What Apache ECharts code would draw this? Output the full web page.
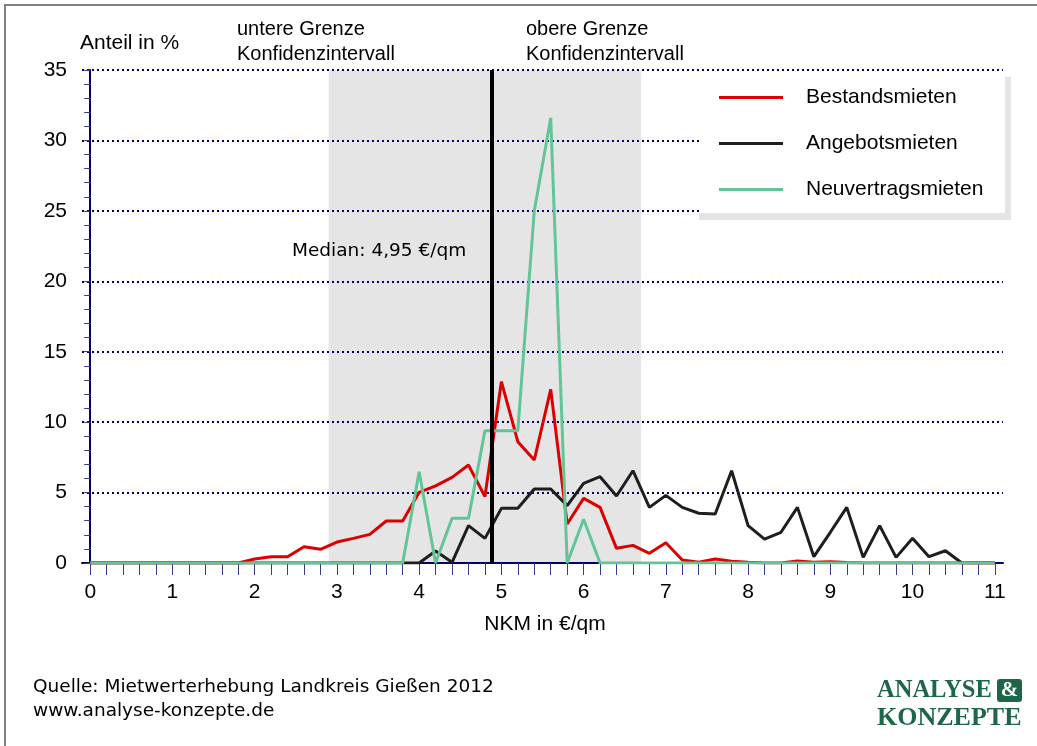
<!DOCTYPE html>
<html lang="de">
<head>
  <meta charset="utf-8">
  <title>NKM Verteilung</title>
  <script src="https://cdn.jsdelivr.net/npm/echarts@6/dist/echarts.min.js"></script>
</head>
<body style="margin:0">
<div id="main" style="width:1037px;height:746px"></div>
<script type="text/javascript">
    // NKM in €/qm, Schritt 0,2
    var nkm = ['0', '0.2', '0.4', '0.6', '0.8', '1', '1.2', '1.4', '1.6', '1.8',
        '2', '2.2', '2.4', '2.6', '2.8', '3', '3.2', '3.4', '3.6', '3.8',
        '4', '4.2', '4.4', '4.6', '4.8', '5', '5.2', '5.4', '5.6', '5.8',
        '6', '6.2', '6.4', '6.6', '6.8', '7', '7.2', '7.4', '7.6', '7.8',
        '8', '8.2', '8.4', '8.6', '8.8', '9', '9.2', '9.4', '9.6', '9.8',
        '10', '10.2', '10.4', '10.6', '10.8', '11'];

    // Anteil in %
    var bestandsmieten = [0, 0, 0, 0, 0, 0, 0, 0, 0, 0,
        0.28, 0.45, 0.45, 1.16, 0.97, 1.49, 1.75, 2.03, 2.98, 2.98,
        5.02, 5.47, 6.08, 6.96, 4.71, 12.87, 8.61, 7.31, 12.33, 2.77,
        4.59, 3.95, 1.04, 1.25, 0.69, 1.44, 0.21, 0.05, 0.28, 0.12,
        0.05, 0, 0, 0.15, 0.05, 0.08, 0.03, 0, 0, 0,
        0, 0, 0, 0, 0, 0];
    var angebotsmieten = [0, 0, 0, 0, 0, 0, 0, 0, 0, 0,
        0, 0, 0, 0, 0, 0, 0, 0, 0, 0,
        0, 0.85, 0.05, 2.65, 1.75, 3.88, 3.88, 5.25, 5.25, 4.07,
        5.66, 6.13, 4.76, 6.55, 3.95, 4.8, 3.95, 3.53, 3.48, 6.55,
        2.65, 1.7, 2.18, 3.95, 0.45, 2.18, 3.95, 0.4, 2.65, 0.4,
        1.75, 0.45, 0.87, 0, 0, 0];
    var neuvertragsmieten = [0, 0, 0, 0, 0, 0, 0, 0, 0, 0,
        0, 0, 0, 0, 0, 0, 0, 0, 0, 0,
        6.48, 0, 3.17, 3.17, 9.39, 9.39, 9.39, 25.0, 31.6, 0,
        3.1, 0, 0, 0, 0, 0, 0, 0, 0, 0,
        0, 0, 0, 0, 0, 0, 0, 0, 0, 0,
        0, 0, 0, 0, 0, 0];

    var konfidenz = [2.9, 6.7];
    var median = 4.88;
    var medianText = 'Median: 4,95 €/qm';

    var navy = '#000066';
    var tickColor = '#3a3a8a';
    var sans = '"Liberation Sans", Arial, sans-serif';
    var tahoma = '"DejaVu Sans", Verdana, sans-serif';

    var myChart = echarts.init(document.getElementById('main'));

    var option = {
        backgroundColor: '#ffffff',
        animation: false,
        grid: {left: 82, right: 34, top: 70, bottom: 183},
        xAxis: [{
            type: 'category',
            data: nkm,
            boundaryGap: true,
            z: 1.5,
            axisLine: {lineStyle: {color: navy, width: 2}},
            axisTick: {show: true, alignWithLabel: true, interval: 0, length: 12, lineStyle: {color: tickColor, width: 1}},
            axisLabel: {interval: 4, margin: 19, fontFamily: sans, fontSize: 21, color: '#000'},
            splitLine: {show: false}
        }, {
            type: 'value',
            min: -0.1,
            max: 11.1,
            show: false
        }],
        yAxis: {
            type: 'value',
            min: 0,
            max: 35,
            interval: 5,
            z: 1.5,
            axisLine: {show: true, lineStyle: {color: navy, width: 2}},
            axisTick: {show: true, length: 6, lineStyle: {color: tickColor, width: 1}},
            minorTick: {show: true, splitNumber: 5, length: 6, lineStyle: {color: tickColor, width: 1}},
            axisLabel: {margin: 15, fontFamily: sans, fontSize: 21, color: '#000'},
            splitLine: {show: true, lineStyle: {color: navy, width: 2, type: [2, 3]}}
        },
        legend: {
            orient: 'vertical',
            left: 714,
            top: 82,
            z: 10,
            itemWidth: 64,
            itemHeight: 3,
            itemGap: 25,
            icon: 'rect',
            data: ['Bestandsmieten', 'Angebotsmieten', 'Neuvertragsmieten'],
            textStyle: {fontFamily: sans, fontSize: 21, color: '#000', lineHeight: 21, padding: [0, 0, 0, 18]}
        },
        graphic: [
            {type: 'rect', z: 8, shape: {x: 5, y: 5, width: 1100, height: 800},
                style: {fill: null, stroke: '#808080', lineWidth: 2}},
            {type: 'rect', z: 8, shape: {x: 699, y: 77, width: 312, height: 143}, style: {fill: '#e4e4e4'}},
            {type: 'rect', z: 9, shape: {x: 699, y: 77, width: 306, height: 136}, style: {fill: '#ffffff'}},
            {type: 'text', z: 9, x: 80, y: 43, style: {text: 'Anteil in %', font: '21px ' + sans, fill: '#000', textVerticalAlign: 'middle'}},
            {type: 'text', z: 9, x: 237, y: 29, style: {text: 'untere Grenze', font: '20px ' + sans, fill: '#000', textVerticalAlign: 'middle'}},
            {type: 'text', z: 9, x: 237, y: 54, style: {text: 'Konfidenzintervall', font: '20px ' + sans, fill: '#000', textVerticalAlign: 'middle'}},
            {type: 'text', z: 9, x: 526, y: 29, style: {text: 'obere Grenze', font: '20px ' + sans, fill: '#000', textVerticalAlign: 'middle'}},
            {type: 'text', z: 9, x: 526, y: 54, style: {text: 'Konfidenzintervall', font: '20px ' + sans, fill: '#000', textVerticalAlign: 'middle'}},
            {type: 'text', z: 9, x: 292, y: 251, style: {text: medianText, font: '18.5px ' + tahoma, fill: '#000', textVerticalAlign: 'middle'}},
            {type: 'text', z: 9, x: 545, y: 624, style: {text: 'NKM in €/qm', font: '21px ' + sans, fill: '#000', textAlign: 'center', textVerticalAlign: 'middle'}},
            {type: 'text', z: 9, x: 33, y: 687, style: {text: 'Quelle: Mietwerterhebung Landkreis Gießen 2012', font: '18.5px ' + tahoma, fill: '#000', textVerticalAlign: 'middle'}},
            {type: 'text', z: 9, x: 33, y: 711, style: {text: 'www.analyse-konzepte.de', font: '18.5px ' + tahoma, fill: '#000', textVerticalAlign: 'middle'}},
            {type: 'text', z: 9, x: 877, y: 691, style: {text: 'ANALYSE', font: 'bold 24.5px "Liberation Serif", serif', fill: '#1d6647', textVerticalAlign: 'middle'}},
            {type: 'rect', z: 9, shape: {x: 997, y: 679, width: 25, height: 23, r: 3}, style: {fill: '#1d6647'}},
            {type: 'text', z: 10, x: 1009.5, y: 691, style: {text: '&', font: 'bold 21px "Liberation Serif", serif', fill: '#fff', textAlign: 'center', textVerticalAlign: 'middle'}},
            {type: 'text', z: 9, x: 877, y: 718, style: {text: 'KONZEPTE', font: 'bold 26px "Liberation Serif", serif', fill: '#1d6647', textVerticalAlign: 'middle'}}
        ],
        series: [{
            name: 'band',
            type: 'line',
            xAxisIndex: 1,
            data: [],
            silent: true,
            markArea: {
                silent: true,
                z: 1,
                itemStyle: {color: '#e5e5e5'},
                data: [[{xAxis: konfidenz[0]}, {xAxis: konfidenz[1]}]]
            }
        }, {
            name: 'Bestandsmieten',
            type: 'line',
            data: bestandsmieten,
            symbol: 'none',
            color: '#dc0000',
            lineStyle: {width: 3, color: '#dc0000'}
        }, {
            name: 'Angebotsmieten',
            type: 'line',
            data: angebotsmieten,
            symbol: 'none',
            color: '#1e1e1e',
            lineStyle: {width: 3, color: '#1e1e1e'}
        }, {
            name: 'Neuvertragsmieten',
            type: 'line',
            data: neuvertragsmieten,
            symbol: 'none',
            color: '#63c498',
            lineStyle: {width: 3, color: '#63c498'}
        }, {
            name: 'median',
            type: 'line',
            xAxisIndex: 1,
            data: [],
            silent: true,
            markLine: {
                silent: true,
                z: 5,
                symbol: 'none',
                label: {show: false},
                lineStyle: {color: '#000', width: 4, type: 'solid'},
                data: [{xAxis: median}]
            }
        }]
    };

    myChart.setOption(option);
</script>
</body>
</html>
